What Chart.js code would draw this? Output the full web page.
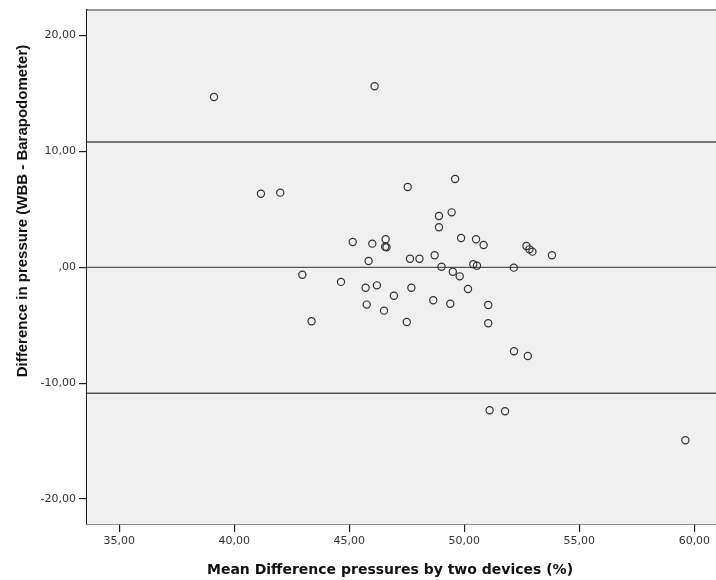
<!DOCTYPE html>
<html>
<head>
<meta charset="utf-8">
<script src="https://cdn.jsdelivr.net/npm/chart.js@4.4.1/dist/chart.umd.min.js"></script>
<style>
  html, body { margin: 0; padding: 0; background: #ffffff; overflow: hidden; }
  #blandAltman { display: block; }
</style>
</head>
<body>
<canvas id="blandAltman" width="716" height="580"></canvas>
<script>
/* ============================================
   DATA
   ============================================ */

// Mean of the two devices (%) per subject
const meanValues = [
  39.12, 46.10, 41.16, 42.00, 45.15, 42.96, 44.64, 43.36, 47.54, 49.60,
  48.90, 49.45, 48.90, 49.86, 50.51, 50.84, 52.70, 52.83, 52.96, 53.81,
  46.58, 46.56, 46.62, 46.00, 45.84, 47.64, 48.05, 48.71, 49.01, 49.50,
  49.80, 50.39, 50.55, 52.15, 45.71, 46.20, 47.70, 46.94, 45.76, 46.51,
  47.50, 50.16, 48.65, 49.39, 51.04, 51.04, 52.16, 52.76, 51.10, 51.77,
  59.61
];

// Difference WBB - Barapodometer per subject
const diffValues = [
  14.69, 15.62, 6.35, 6.44, 2.18, -0.64, -1.26, -4.65, 6.93, 7.62,
  4.43, 4.74, 3.45, 2.53, 2.42, 1.92, 1.84, 1.55, 1.35, 1.04,
  2.42, 1.77, 1.73, 2.04, 0.54, 0.74, 0.74, 1.04, 0.05, -0.38,
  -0.78, 0.26, 0.14, -0.03, -1.76, -1.56, -1.76, -2.45, -3.22, -3.74,
  -4.72, -1.87, -2.85, -3.14, -3.25, -4.83, -7.25, -7.65, -12.34, -12.42,
  -14.93
];

// Bias and limits of agreement
const upperLimit = 10.81;
const meanBias = 0.00;
const lowerLimit = -10.87;

// Tick values
const xTickValues = [35, 40, 45, 50, 55, 60];
const yTickValues = [-20, -10, 0, 10, 20];

// Axis ranges
const xMin = 33.6, xMax = 60.94;
const yMin = -22.15, yMax = 22.2;

const xTitle = 'Mean Difference pressures by two devices (%)';
const yTitle = 'Difference in pressure (WBB - Barapodometer)';

/* ============================================
   HELPERS
   ============================================ */
function spssNumber(value) {
  // SPSS style: comma decimal, no leading zero
  if (value === 0) return ',00';
  return value.toFixed(2).replace('.', ',');
}

function limitLine(y) {
  return {
    type: 'line',
    data: [{ x: xMin, y: y }, { x: xMax, y: y }],
    borderColor: '#555555',
    borderWidth: 1.3,
    pointRadius: 0,
    fill: false,
    order: 2
  };
}

const points = meanValues.map((m, i) => ({ x: m, y: diffValues[i] }));

// Gray plot background, top frame line and axis titles
const plotDecor = {
  id: 'plotDecor',
  beforeDatasetsDraw(chart) {
    const { ctx, chartArea: a } = chart;
    ctx.save();
    ctx.fillStyle = '#f0f0f0';
    ctx.fillRect(a.left, a.top, a.right - a.left, a.bottom - a.top);
    ctx.strokeStyle = '#7a7a7a';
    ctx.lineWidth = 1.5;
    ctx.beginPath();
    ctx.moveTo(a.left, a.top);
    ctx.lineTo(a.right, a.top);
    ctx.stroke();
    ctx.restore();
  },
  afterDraw(chart) {
    const ctx = chart.ctx;
    ctx.save();
    ctx.fillStyle = '#111111';
    ctx.textAlign = 'center';
    ctx.textBaseline = 'alphabetic';
    ctx.font = 'bold 14px "DejaVu Sans", sans-serif';
    ctx.fillText(xTitle, 390, 574);
    ctx.font = 'bold 15px "Liberation Sans", Arial, sans-serif';
    ctx.translate(27, 211);
    ctx.rotate(-Math.PI / 2);
    ctx.fillText(yTitle, 0, 0);
    ctx.restore();
  }
};

/* ============================================
   CHART
   ============================================ */
const ctx = document.getElementById('blandAltman').getContext('2d');

new Chart(ctx, {
  type: 'scatter',
  data: {
    datasets: [
      {
        label: 'Subjects',
        data: points,
        pointStyle: 'circle',
        pointRadius: 3.6,
        pointBackgroundColor: 'rgba(0,0,0,0)',
        pointBorderColor: '#333333',
        pointBorderWidth: 1.2,
        order: 1
      },
      limitLine(upperLimit),
      limitLine(meanBias),
      limitLine(lowerLimit)
    ]
  },
  options: {
    responsive: false,
    animation: false,
    events: [],
    layout: { autoPadding: false, padding: { left: 0, top: 10, right: 0, bottom: 0 } },
    plugins: {
      legend: { display: false },
      tooltip: { enabled: false }
    },
    scales: {
      x: {
        type: 'linear',
        min: xMin,
        max: xMax,
        afterBuildTicks: (scale) => { scale.ticks = xTickValues.map(v => ({ value: v })); },
        afterFit: (scale) => {
          scale.height = 56;
          scale.paddingLeft = 0;
          scale.paddingRight = 0;
        },
        border: { display: true, color: '#222222', width: 1.5 },
        grid: {
          drawOnChartArea: false,
          drawTicks: true,
          tickLength: 8,
          color: '#222222',
          lineWidth: 1.2
        },
        ticks: {
          padding: 3,
          color: '#333333',
          font: { family: '"DejaVu Sans", sans-serif', size: 11 },
          maxRotation: 0,
          callback: (v) => spssNumber(v)
        }
      },
      y: {
        type: 'linear',
        min: yMin,
        max: yMax,
        afterBuildTicks: (scale) => { scale.ticks = yTickValues.map(v => ({ value: v })); },
        afterFit: (scale) => {
          scale.width = 87;
          scale.paddingTop = 0;
          scale.paddingBottom = 0;
        },
        border: { display: true, color: '#222222', width: 1.5 },
        grid: {
          drawOnChartArea: false,
          drawTicks: true,
          tickLength: 8,
          color: '#222222',
          lineWidth: 1.2
        },
        ticks: {
          padding: 3,
          color: '#333333',
          font: { family: '"DejaVu Sans", sans-serif', size: 11 },
          callback: (v) => spssNumber(v)
        }
      }
    }
  },
  plugins: [plotDecor]
});
</script>
</body>
</html>
